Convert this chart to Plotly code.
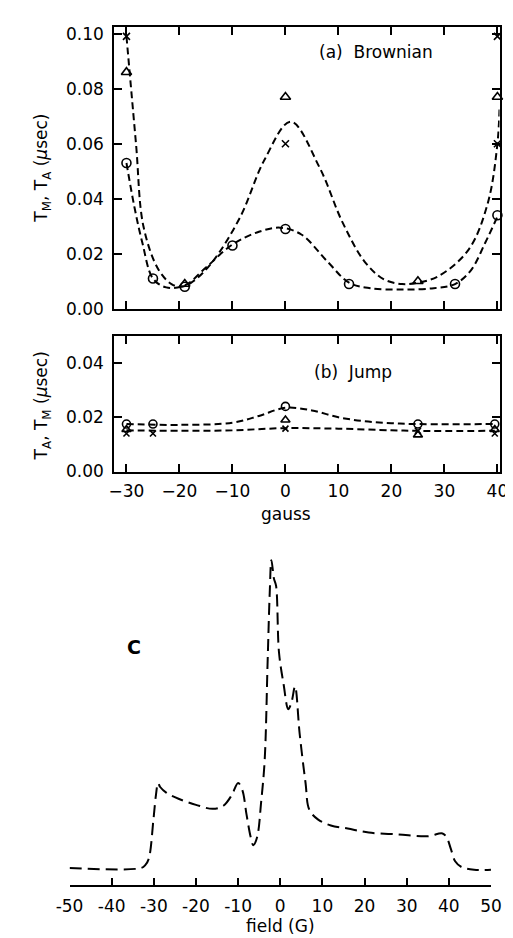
import plotly.graph_objects as go

W, H = 513, 938

# ---------------- data: panel (a) Brownian ----------------
a_circle_x = [-30, -25, -19, -10, 0, 12, 32, 40]
a_circle_y = [0.053, 0.011, 0.008, 0.023, 0.029, 0.009, 0.009, 0.034]
a_tri_x = [-30, -19, 0, 25, 40]
a_tri_y = [0.086, 0.009, 0.077, 0.010, 0.077]
a_cross_x = [-30, 0, 40, 40]
a_cross_y = [0.099, 0.060, 0.060, 0.099]

a_fit_hi_x = [-30, -28.2, -26.8, -24, -21.5, -19.5, -17.4, -13.8, -8.5, -4, 1, 6.4,
              10.8, 15, 18.5, 22, 25, 29, 34.6, 38.2, 40, 40.4]
a_fit_hi_y = [0.099, 0.060, 0.030, 0.0144, 0.009, 0.008, 0.010, 0.017, 0.0335, 0.054,
              0.068, 0.0515, 0.0313, 0.017, 0.0108, 0.009, 0.0095, 0.012, 0.0216,
              0.0385, 0.060, 0.073]
a_fit_lo_x = [-30, -28.5, -27, -25, -22.5, -19, -15, -10, -5, -1, 3, 8, 12, 16, 22,
              28, 32, 35, 37.7, 40]
a_fit_lo_y = [0.053, 0.037, 0.024, 0.011, 0.0078, 0.0085, 0.015, 0.0234, 0.028,
              0.0295, 0.027, 0.017, 0.0095, 0.0075, 0.007, 0.0075, 0.009, 0.014,
              0.024, 0.0335]

# ---------------- data: panel (b) Jump ----------------
b_circle_x = [-30, -25, 0, 25, 39.5]
b_circle_y = [0.0175, 0.0175, 0.024, 0.0175, 0.0175]
b_tri_x = [-30, 0, 25, 39.5]
b_tri_y = [0.0155, 0.019, 0.0135, 0.0155]
b_cross_x = [-30, -25, 0, 25, 39.5]
b_cross_y = [0.0140, 0.0140, 0.0158, 0.0150, 0.0140]

b_fit_hi_x = [-30, -20, -10, -5, 0, 5, 10, 15, 20, 25, 39.5]
b_fit_hi_y = [0.0175, 0.0172, 0.018, 0.0205, 0.0235, 0.0225, 0.020, 0.0185, 0.0178,
              0.0175, 0.0175]
b_fit_lo_x = [-30, -20, -10, 0, 10, 20, 25, 39.5]
b_fit_lo_y = [0.0152, 0.015, 0.0152, 0.016, 0.0158, 0.0152, 0.015, 0.015]

# ---------------- data: panel (c) spectrum ----------------
c_field = [-50, -33, -32, -31.2, -30.1, -29.5, -29, -28.5, -27, -24, -20, -16, -13.5,
           -11.5, -10, -9, -8, -7, -6.4, -5.5, -4.5, -3.7, -3.0, -2.5, -2.1, -1.5,
           -1.0, -0.3, 0.8, 1.9, 2.7, 3.5, 4.6, 6.0, 6.9, 9, 12, 16, 21, 28, 35,
           38.5, 39.5, 40.5, 41.5, 43, 46, 50]
c_signal = [0.0, 0.0, 0.01, 0.03, 0.157, 0.237, 0.276, 0.263, 0.244, 0.224, 0.205,
            0.192, 0.202, 0.237, 0.276, 0.253, 0.173, 0.099, 0.074, 0.10, 0.22,
            0.35, 0.67, 0.894, 1.0, 0.94, 0.917, 0.70, 0.596, 0.516, 0.54, 0.59,
            0.436, 0.276, 0.189, 0.157, 0.138, 0.128, 0.115, 0.109, 0.103, 0.112,
            0.099, 0.061, 0.022, 0.003, -0.006, -0.006]

x_ticks_ab = [-30, -20, -10, 0, 10, 20, 30, 40]
y_ticks_a = [0.00, 0.02, 0.04, 0.06, 0.08, 0.10]
y_ticks_b = [0.00, 0.02, 0.04]
x_ticks_c = [-50, -40, -30, -20, -10, 0, 10, 20, 30, 40, 50]
x_ticktext_c = ["-50", "-40", "-30", "-20", "-10", "0", "10", "20", "30", "40", "50"]

FONT = "DejaVu Sans"
BLACK = "black"
TICK_SIZE = 17

fig = go.Figure()

dash_ab = "7px,4px"


def add_line(x, y, xa, ya, dash, width=2):
    fig.add_trace(go.Scatter(x=x, y=y, mode="lines", xaxis=xa, yaxis=ya,
                             line=dict(color=BLACK, width=width, dash=dash,
                                       shape="spline", smoothing=1.0),
                             hoverinfo="skip", showlegend=False, cliponaxis=True))


def add_markers(x, y, xa, ya, symbol, size):
    fig.add_trace(go.Scatter(x=x, y=y, mode="markers", xaxis=xa, yaxis=ya,
                             marker=dict(symbol=symbol, size=size, color=BLACK,
                                         line=dict(color=BLACK, width=1.6)),
                             showlegend=False, cliponaxis=False))


# panel a
add_line(a_fit_hi_x, a_fit_hi_y, "x", "y", dash_ab)
add_line(a_fit_lo_x, a_fit_lo_y, "x", "y", dash_ab)
add_markers(a_circle_x, a_circle_y, "x", "y", "circle-open", 9)
add_markers(a_tri_x, a_tri_y, "x", "y", "triangle-up-open", 9)
add_markers(a_cross_x, a_cross_y, "x", "y", "x-thin-open", 7)

# panel b
add_line(b_fit_hi_x, b_fit_hi_y, "x2", "y2", dash_ab)
add_line(b_fit_lo_x, b_fit_lo_y, "x2", "y2", dash_ab)
add_markers(b_circle_x, b_circle_y, "x2", "y2", "circle-open", 8)
add_markers(b_tri_x, b_tri_y, "x2", "y2", "triangle-up-open", 8)
add_markers(b_cross_x, b_cross_y, "x2", "y2", "x-thin-open", 6)

# panel c
add_line(c_field, c_signal, "x3", "y3", "12px,6px")


def fx(p):
    return p / W


def fy(p):
    return 1 - p / H


axis_common = dict(showline=True, linecolor=BLACK, linewidth=2, ticks="inside",
                   ticklen=8, tickwidth=2, tickcolor=BLACK, showgrid=False,
                   zeroline=False, mirror="ticks",
                   tickfont=dict(family=FONT, size=TICK_SIZE, color=BLACK))

fig.update_layout(
    width=W, height=H, autosize=False,
    margin=dict(l=0, r=0, t=0, b=0),
    paper_bgcolor="white", plot_bgcolor="white",
    font=dict(family=FONT, color=BLACK),
    xaxis=dict(domain=[fx(97), fx(502)], range=[-32.3, 40.4], anchor="y",
               tickvals=x_ticks_ab, showticklabels=False, **axis_common),
    yaxis=dict(domain=[fy(302), fy(16)], range=[0, 0.1025], anchor="x",
               tickvals=y_ticks_a, tickformat=".2f", ticklabelstandoff=5,
               **axis_common),
    xaxis2=dict(domain=[fx(97), fx(502)], range=[-32.3, 40.4], anchor="y2",
                tickvals=x_ticks_ab, ticklabelstandoff=3, **axis_common),
    yaxis2=dict(domain=[fy(467), fy(330)], range=[0, 0.0498], anchor="x2",
                tickvals=y_ticks_b, tickformat=".2f", ticklabelstandoff=5,
                **axis_common),
    xaxis3=dict(domain=[fx(50), fx(493)], range=[-50, 50], anchor="y3",
                tickvals=x_ticks_c, ticktext=x_ticktext_c, ticklabelstandoff=5,
                showline=True, linecolor=BLACK, linewidth=2, ticks="inside",
                ticklen=7, tickwidth=2, tickcolor=BLACK, showgrid=False,
                zeroline=False, tickfont=dict(family=FONT, size=TICK_SIZE, color=BLACK)),
    yaxis3=dict(domain=[fy(886), fy(550)], range=[-0.0545, 1.022], anchor="x3",
                visible=False),
)

ann_font = dict(family=FONT, size=17, color=BLACK)
annotations = [
    dict(text="(a)  Brownian", x=fx(372), y=fy(42)),
    dict(text="(b)  Jump", x=fx(348), y=fy(366)),
    dict(text="gauss", x=fx(278), y=fy(510)),
    dict(text="field (G)", x=fx(272), y=fy(928)),
    dict(text="T<sub>M</sub>, T<sub>A</sub> (<i>μ</i>sec)", x=fx(22), y=fy(159),
         textangle=-90),
    dict(text="T<sub>A</sub>, T<sub>M</sub> (<i>μ</i>sec)", x=fx(22), y=fy(400),
         textangle=-90),
    dict(text="<b>C</b>", x=fx(118), y=fy(645), size=19),
]
for a in annotations:
    f = dict(ann_font)
    if "size" in a:
        f["size"] = a.pop("size")
    fig.add_annotation(xref="paper", yref="paper", showarrow=False,
                       xanchor="center", yanchor="middle", font=f, **a)

fig.write_html("out.html")
